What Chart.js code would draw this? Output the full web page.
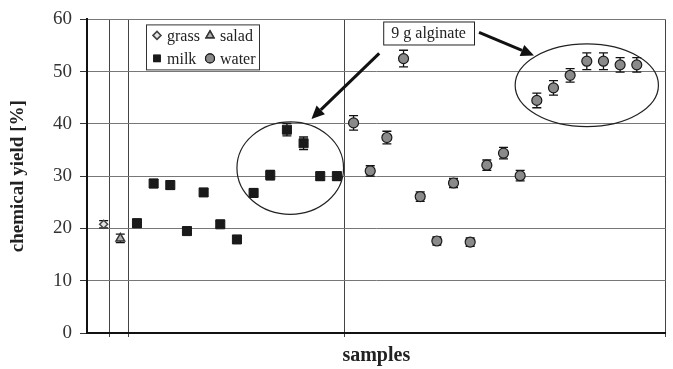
<!DOCTYPE html>
<html>
<head>
<meta charset="utf-8">
<script src="https://cdn.jsdelivr.net/npm/chart.js@4/dist/chart.umd.min.js"></script>
<style>
  body { margin: 0; background: #fff; }
</style>
</head>
<body>
<canvas id="yield" width="673" height="369"></canvas>
<script>
// values (sample number, yield %, error)
var grassX = [1];
var grassY = [20.8];
var grassErr = [0.7];

var saladX = [2];
var saladY = [18.1];
var saladErr = [0.8];

var milkX = [3, 4, 5, 6, 7, 8, 9, 10, 11, 12, 13, 14, 15];
var milkY = [21.0, 28.6, 28.3, 19.5, 26.9, 20.8, 17.9, 26.8, 30.2, 38.9, 36.3, 30.0, 30.0];
var milkErr = [0.8, 0.8, 0.8, 0.7, 0.7, 0.6, 0.7, 0.8, 0.9, 1.2, 1.2, 0.8, 0.8];

var waterX = [16, 17, 18, 19, 20, 21, 22, 23, 24, 25, 26, 27, 28, 29, 30, 31, 32, 33];
var waterY = [40.2, 31.0, 37.4, 52.5, 26.1, 17.6, 28.7, 17.4, 32.1, 34.4, 30.1, 44.5, 46.9, 49.3, 52.0, 52.0, 51.3, 51.3];
var waterErr = [1.4, 1.0, 1.2, 1.6, 0.9, 0.8, 0.9, 0.8, 1.0, 1.1, 1.0, 1.4, 1.4, 1.3, 1.6, 1.6, 1.4, 1.4];

// group separators on the sample axis
var separators = [1.33, 2.5, 15.45, 34.73];
var yTicks = [0, 10, 20, 30, 40, 50, 60];

function pts(xs, ys) {
    return xs.map(function (v, i) { return { x: v, y: ys[i] }; });
}

var serif = 'Liberation Serif';

var errorBars = {
    id: 'errorBars',
    beforeDatasetsDraw: function (chart) {
        var ctx = chart.ctx, x = chart.scales.x, y = chart.scales.y;
        ctx.save();
        ctx.strokeStyle = '#111';
        ctx.lineWidth = 1.3;
        chart.data.datasets.forEach(function (ds) {
            ds.data.forEach(function (p, i) {
                var px = x.getPixelForValue(p.x);
                var t = y.getPixelForValue(p.y + ds.errors[i]);
                var b = y.getPixelForValue(p.y - ds.errors[i]);
                ctx.beginPath();
                ctx.moveTo(px, t); ctx.lineTo(px, b);
                ctx.moveTo(px - 4.5, t); ctx.lineTo(px + 4.5, t);
                ctx.moveTo(px - 4.5, b); ctx.lineTo(px + 4.5, b);
                ctx.stroke();
            });
        });
        ctx.restore();
    }
};

function arrow(ctx, x0, y0, x1, y1) {
    var a = Math.atan2(y1 - y0, x1 - x0);
    var hl = 13, hw = 6;
    var bx = x1 - hl * Math.cos(a), by = y1 - hl * Math.sin(a);
    ctx.beginPath();
    ctx.moveTo(x0, y0); ctx.lineTo(bx, by);
    ctx.stroke();
    ctx.beginPath();
    ctx.moveTo(x1, y1);
    ctx.lineTo(bx + hw * Math.sin(a), by - hw * Math.cos(a));
    ctx.lineTo(bx - hw * Math.sin(a), by + hw * Math.cos(a));
    ctx.closePath();
    ctx.fill();
}

var notes = {
    id: 'notes',
    afterDatasetsDraw: function (chart) {
        var ctx = chart.ctx, x = chart.scales.x, y = chart.scales.y;
        ctx.save();
        // ellipses round the alginate samples
        ctx.strokeStyle = '#222';
        ctx.lineWidth = 1.2;
        [[9.0, 15.4, 22.7, 40.4], [25.7, 34.3, 39.5, 55.3]].forEach(function (e) {
            var l = x.getPixelForValue(e[0]), r = x.getPixelForValue(e[1]);
            var b = y.getPixelForValue(e[2]), t = y.getPixelForValue(e[3]);
            ctx.beginPath();
            ctx.ellipse((l + r) / 2, (t + b) / 2, (r - l) / 2, (b - t) / 2, 0, 0, Math.PI * 2);
            ctx.stroke();
        });

        // label box
        var bl = x.getPixelForValue(17.78), br = x.getPixelForValue(23.23);
        var bt = y.getPixelForValue(59.6), bb = y.getPixelForValue(55.2);
        ctx.fillStyle = '#fff';
        ctx.fillRect(bl, bt, br - bl, bb - bt);
        ctx.strokeStyle = '#222';
        ctx.lineWidth = 1;
        ctx.strokeRect(bl + 0.5, bt + 0.5, br - bl, bb - bt);
        ctx.fillStyle = '#222';
        ctx.font = '16px "' + serif + '"';
        ctx.textAlign = 'center';
        ctx.textBaseline = 'middle';
        ctx.fillText('9 g alginate', (bl + br) / 2, (bt + bb) / 2 + 1);

        // arrows
        ctx.strokeStyle = '#111';
        ctx.fillStyle = '#111';
        ctx.lineWidth = 3;
        arrow(ctx, x.getPixelForValue(23.53), y.getPixelForValue(57.5), x.getPixelForValue(26.83), y.getPixelForValue(53.1));
        arrow(ctx, x.getPixelForValue(17.54), y.getPixelForValue(53.5), x.getPixelForValue(13.47), y.getPixelForValue(40.95));
        ctx.restore();
    }
};

var legendBox = {
    id: 'legendBox',
    afterDraw: function (chart) {
        var ctx = chart.ctx, area = chart.chartArea;
        var l = area.left + 59, t = area.top + 5;
        ctx.save();
        ctx.fillStyle = '#fff';
        ctx.fillRect(l, t, 113, 45);
        ctx.strokeStyle = '#333';
        ctx.lineWidth = 1;
        ctx.strokeRect(l + 0.5, t + 0.5, 113, 45);
        var items = [
            [0, 11, 11, 'grass'], [1, 64, 11, 'salad'],
            [2, 11, 34, 'milk'], [3, 64, 34, 'water']
        ];
        ctx.font = '16px "' + serif + '"';
        ctx.textBaseline = 'middle';
        ctx.textAlign = 'left';
        items.forEach(function (it) {
            var ds = chart.data.datasets[it[0]];
            Chart.helpers.drawPoint(ctx, {
                pointStyle: ds.pointStyle,
                radius: Math.min(ds.pointRadius, 4.5),
                borderWidth: ds.borderWidth
            }, l + it[1], t + it[2]);
            ctx.fillStyle = ds.backgroundColor;
            ctx.strokeStyle = ds.borderColor;
            ctx.lineWidth = ds.borderWidth;
            ctx.fill();
            ctx.stroke();
            ctx.fillStyle = '#222';
            ctx.fillText(it[3], l + it[1] + 10, t + it[2] + 1);
        });
        ctx.restore();
    }
};

var ctx = document.getElementById('yield').getContext('2d');
var myChart = new Chart(ctx, {
    type: 'scatter',
    data: {
        datasets: [{
            label: 'grass',
            data: pts(grassX, grassY),
            errors: grassErr,
            pointStyle: 'rectRot',
            pointRadius: 4,
            backgroundColor: '#e4e4e4',
            borderColor: '#444',
            borderWidth: 1.5
        }, {
            label: 'salad',
            data: pts(saladX, saladY),
            errors: saladErr,
            pointStyle: 'triangle',
            pointRadius: 5,
            backgroundColor: '#b0b0b0',
            borderColor: '#333',
            borderWidth: 1.5
        }, {
            label: 'milk',
            data: pts(milkX, milkY),
            errors: milkErr,
            pointStyle: 'rect',
            pointRadius: 6.4,
            backgroundColor: '#1a1a1a',
            borderColor: '#1a1a1a',
            borderWidth: 1
        }, {
            label: 'water',
            data: pts(waterX, waterY),
            errors: waterErr,
            pointStyle: 'circle',
            pointRadius: 5,
            backgroundColor: '#8a8a8a',
            borderColor: '#1a1a1a',
            borderWidth: 1.2
        }]
    },
    options: {
        responsive: false,
        animation: false,
        layout: { padding: { top: 18, right: 6, left: 0, bottom: 0 } },
        plugins: {
            legend: { display: false },
            tooltip: { enabled: false }
        },
        scales: {
            x: {
                type: 'linear',
                min: 0,
                max: separators[separators.length - 1],
                afterBuildTicks: function (scale) {
                    scale.ticks = separators.map(function (v) { return { value: v }; });
                },
                afterFit: function (scale) { scale.height = 36; },
                ticks: { display: false },
                grid: { color: '#444', lineWidth: 1, tickLength: 4, tickColor: '#444' },
                border: { color: '#111', width: 2 },
                title: {
                    display: true,
                    text: 'samples',
                    color: '#222',
                    font: { family: serif, size: 20, weight: 'bold' },
                    padding: { top: 0, bottom: 1 }
                }
            },
            y: {
                min: 0,
                max: 60,
                afterBuildTicks: function (scale) {
                    scale.ticks = yTicks.map(function (v) { return { value: v }; });
                },
                afterFit: function (scale) { scale.width = 87; },
                ticks: {
                    color: '#333',
                    padding: 8,
                    font: { family: serif, size: 19 }
                },
                grid: { color: '#777', lineWidth: 1, tickLength: 7, tickColor: '#333' },
                border: { color: '#111', width: 2 },
                title: {
                    display: true,
                    text: 'chemical yield [%]',
                    color: '#222',
                    font: { family: serif, size: 19, weight: 'bold' },
                    padding: { top: 7, bottom: 0 }
                }
            }
        }
    },
    plugins: [errorBars, notes, legendBox]
});
</script>
</body>
</html>
